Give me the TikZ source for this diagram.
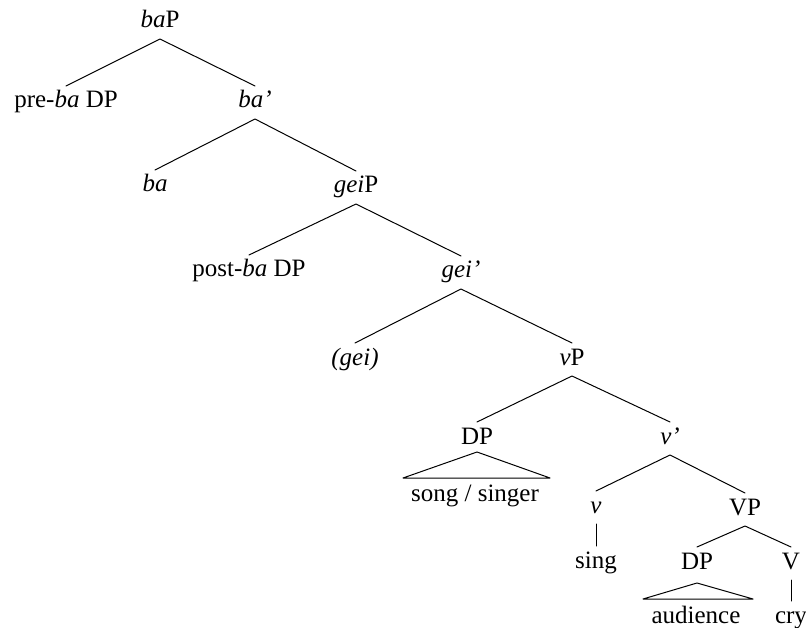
\documentclass[tikz,border=0pt]{standalone}
\usepackage{fontspec}
\setmainfont{Liberation Serif}
\begin{document}
\begin{tikzpicture}[x=1pt,y=-1pt,
  lab/.style={anchor=base, inner sep=0pt, outer sep=0pt,
    text height=22pt, text depth=11pt, font=\fontsize{25}{30}\selectfont},
  edge/.style={line width=1pt, line cap=round, line join=round}]
\useasboundingbox (0,0) rectangle (806,628);

% tree labels (positioned by baseline)
\node[lab] (baP)    at (160,28)  {\textit{ba}P};
\node[lab] (preba)  at (66,108)  {pre-\textit{ba} DP};
\node[lab] (babar)  at (255,108) {\textit{ba’}};
\node[lab] (ba)     at (155,192) {\textit{ba}};
\node[lab] (geiP)   at (356,193) {\textit{gei}P};
\node[lab] (postba) at (249,277) {post-\textit{ba} DP};
\node[lab] (geibar) at (461,278) {\textit{gei’}};
\node[lab] (gei)    at (355,365) {\textit{(gei)}};
\node[lab] (vP)     at (572,365) {\textit{v}P};
\node[lab] (dpa)    at (477,444) {DP};
\node[lab] (vbar)   at (670,444) {\textit{v’}};
\node[lab] (song)   at (475,501) {song / singer};
\node[lab] (v)      at (596,513) {\textit{v}};
\node[lab] (VP)     at (745,515) {VP};
\node[lab] (sing)   at (596,568) {sing};
\node[lab] (dpb)    at (697,569) {DP};
\node[lab] (V)      at (791,569) {V};
\node[lab] (aud)    at (696,623) {audience};
\node[lab] (cry)    at (791,623) {cry};

% branches
\draw[edge] (preba.north) -- (baP.south) -- (babar.north);
\draw[edge] (ba.north) -- (babar.south) -- (geiP.north);
\draw[edge] (postba.north) -- (geiP.south) -- (geibar.north);
\draw[edge] (gei.north) -- (geibar.south) -- (vP.north);
\draw[edge] (dpa.north) -- (vP.south) -- (vbar.north);
\draw[edge] (v.north) -- (vbar.south) -- (VP.north);
\draw[edge] (dpb.north) -- (VP.south) -- (V.north);
\draw[edge] (v.south) -- (sing.north);
\draw[edge] (V.south) -- (cry.north);

% roofs over unanalysed DPs
\draw[edge] ([yshift=3pt]dpa.south) -- ++(-74,26) -- ++(147,0) -- cycle;
\draw[edge] ([yshift=-3pt]dpb.south) -- ++(-54,16) -- ++(110,0) -- cycle;
\end{tikzpicture}
\end{document}
